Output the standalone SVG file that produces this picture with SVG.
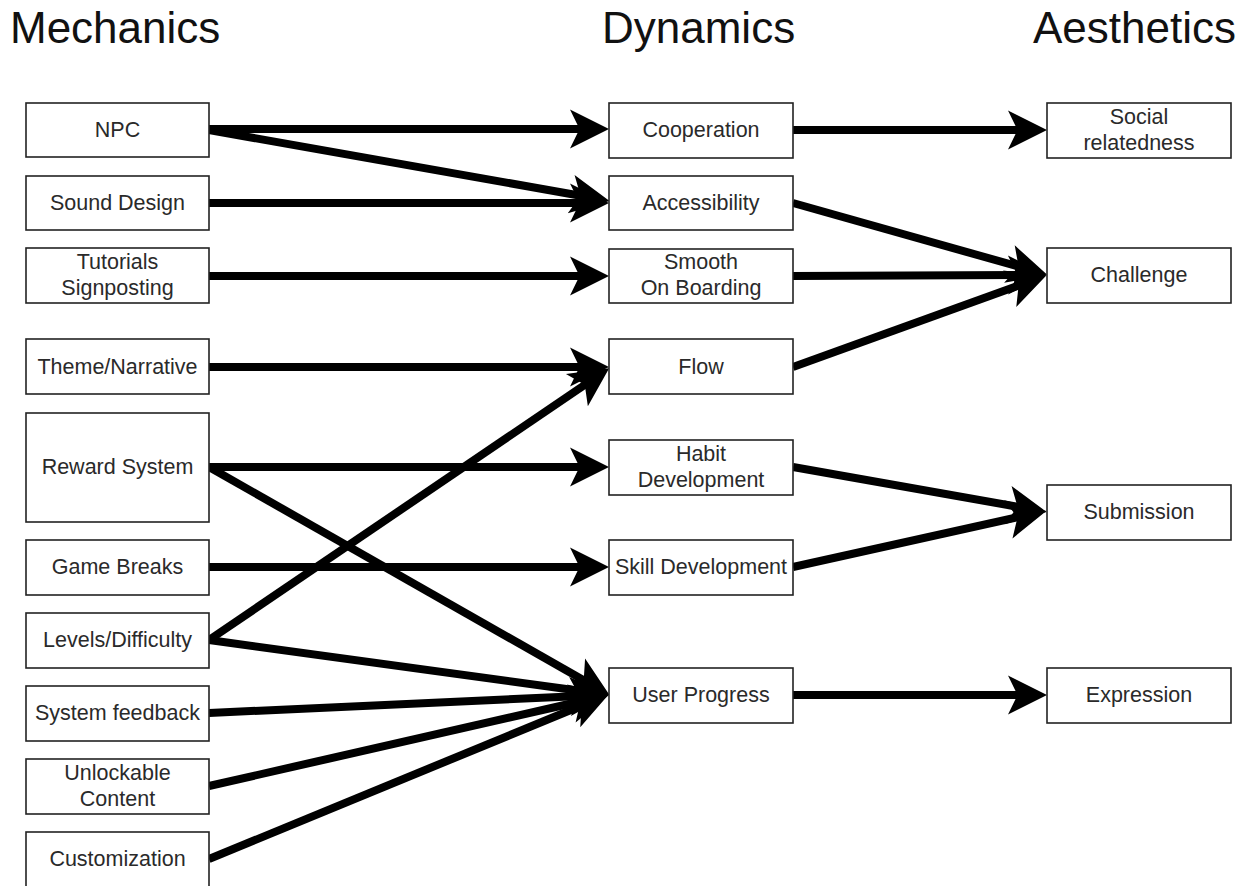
<svg xmlns="http://www.w3.org/2000/svg" width="1256" height="886" viewBox="0 0 1256 886">
  <style>
    .title { font-family: "Liberation Sans", Arial, sans-serif; font-size: 44px; fill: #111; }
    .box { fill: #fff; stroke: #222; stroke-width: 1.6; }
    .lbl { font-family: "Liberation Sans", Arial, sans-serif; font-size: 21.5px; fill: #2a2a2a; text-anchor: middle; }
    .edge { fill: none; stroke: #000; stroke-width: 8; marker-end: url(#arrow); }
  </style>
  <defs>
    <!-- classic arrowhead; the line stops inside the notch, tip sits 28px further on -->
    <marker id="arrow" markerUnits="userSpaceOnUse" markerWidth="60" markerHeight="60" refX="0" refY="0" orient="auto" overflow="visible">
      <path d="M28,0 L-11,-19.5 L-1.5,0 L-11,19.5 Z" fill="#000"/>
    </marker>
  </defs>
  <rect width="1256" height="886" fill="#fff"/>

  <!-- column headings -->
  <text class="title" x="10" y="43">Mechanics</text>
  <text class="title" x="602" y="43">Dynamics</text>
  <text class="title" x="1033" y="43">Aesthetics</text>

  <!-- connectors (each ends 28px before the target edge; the marker supplies the tip) -->
  <g id="connectors">
    <line class="edge" x1="209" y1="129" x2="581" y2="129"/>
    <line class="edge" x1="209" y1="130" x2="582" y2="196"/>
    <line class="edge" x1="209" y1="203" x2="581" y2="203"/>
    <line class="edge" x1="209" y1="276" x2="581" y2="276"/>
    <line class="edge" x1="209" y1="367" x2="581" y2="367"/>
    <line class="edge" x1="209" y1="467" x2="581" y2="467"/>
    <line class="edge" x1="209" y1="467" x2="585" y2="681"/>
    <line class="edge" x1="209" y1="567" x2="581" y2="567"/>
    <line class="edge" x1="209" y1="640" x2="586" y2="384"/>
    <line class="edge" x1="209" y1="640" x2="581" y2="691"/>
    <line class="edge" x1="209" y1="713" x2="581" y2="696"/>
    <line class="edge" x1="209" y1="786" x2="582" y2="701"/>
    <line class="edge" x1="209" y1="859" x2="583" y2="705"/>
    <line class="edge" x1="793" y1="130" x2="1019" y2="130"/>
    <line class="edge" x1="793" y1="203" x2="1020" y2="267"/>
    <line class="edge" x1="793" y1="276" x2="1019" y2="275"/>
    <line class="edge" x1="793" y1="367" x2="1020" y2="285"/>
    <line class="edge" x1="793" y1="467" x2="1019" y2="507"/>
    <line class="edge" x1="793" y1="567" x2="1019" y2="517"/>
    <line class="edge" x1="793" y1="695" x2="1019" y2="695"/>
  </g>

  <!-- mechanics -->
  <g id="npc"><rect class="box" x="26" y="103" width="183" height="54"/><text class="lbl" x="117.5" y="137">NPC</text></g>
  <g id="sound-design"><rect class="box" x="26" y="176" width="183" height="54"/><text class="lbl" x="117.5" y="210">Sound Design</text></g>
  <g id="tutorials"><rect class="box" x="26" y="248" width="183" height="55"/><text class="lbl" x="117.5" y="269">Tutorials</text><text class="lbl" x="117.5" y="295">Signposting</text></g>
  <g id="theme"><rect class="box" x="26" y="339" width="183" height="55"/><text class="lbl" x="117.5" y="374">Theme/Narrative</text></g>
  <g id="reward"><rect class="box" x="26" y="413" width="183" height="109"/><text class="lbl" x="117.5" y="474">Reward System</text></g>
  <g id="game-breaks"><rect class="box" x="26" y="540" width="183" height="55"/><text class="lbl" x="117.5" y="574">Game Breaks</text></g>
  <g id="levels"><rect class="box" x="26" y="613" width="183" height="55"/><text class="lbl" x="117.5" y="647">Levels/Difficulty</text></g>
  <g id="system-feedback"><rect class="box" x="26" y="686" width="183" height="55"/><text class="lbl" x="117.5" y="720">System feedback</text></g>
  <g id="unlockable"><rect class="box" x="26" y="759" width="183" height="55"/><text class="lbl" x="117.5" y="780">Unlockable</text><text class="lbl" x="117.5" y="806">Content</text></g>
  <g id="customization"><rect class="box" x="26" y="832" width="183" height="55"/><text class="lbl" x="117.5" y="866">Customization</text></g>

  <!-- dynamics -->
  <g id="cooperation"><rect class="box" x="609" y="103" width="184" height="55"/><text class="lbl" x="701" y="137">Cooperation</text></g>
  <g id="accessibility"><rect class="box" x="609" y="176" width="184" height="54"/><text class="lbl" x="701" y="210">Accessibility</text></g>
  <g id="smooth"><rect class="box" x="609" y="249" width="184" height="54"/><text class="lbl" x="701" y="269">Smooth</text><text class="lbl" x="701" y="295">On Boarding</text></g>
  <g id="flow"><rect class="box" x="609" y="339" width="184" height="55"/><text class="lbl" x="701" y="374">Flow</text></g>
  <g id="habit"><rect class="box" x="609" y="440" width="184" height="55"/><text class="lbl" x="701" y="461">Habit</text><text class="lbl" x="701" y="487">Development</text></g>
  <g id="skill"><rect class="box" x="609" y="540" width="184" height="55"/><text class="lbl" x="701" y="574">Skill Development</text></g>
  <g id="user-progress"><rect class="box" x="609" y="668" width="184" height="55"/><text class="lbl" x="701" y="702">User Progress</text></g>

  <!-- aesthetics -->
  <g id="social"><rect class="box" x="1047" y="103" width="184" height="55"/><text class="lbl" x="1139" y="124">Social</text><text class="lbl" x="1139" y="150">relatedness</text></g>
  <g id="challenge"><rect class="box" x="1047" y="248" width="184" height="55"/><text class="lbl" x="1139" y="282">Challenge</text></g>
  <g id="submission"><rect class="box" x="1047" y="485" width="184" height="55"/><text class="lbl" x="1139" y="519">Submission</text></g>
  <g id="expression"><rect class="box" x="1047" y="668" width="184" height="55"/><text class="lbl" x="1139" y="702">Expression</text></g>
</svg>
